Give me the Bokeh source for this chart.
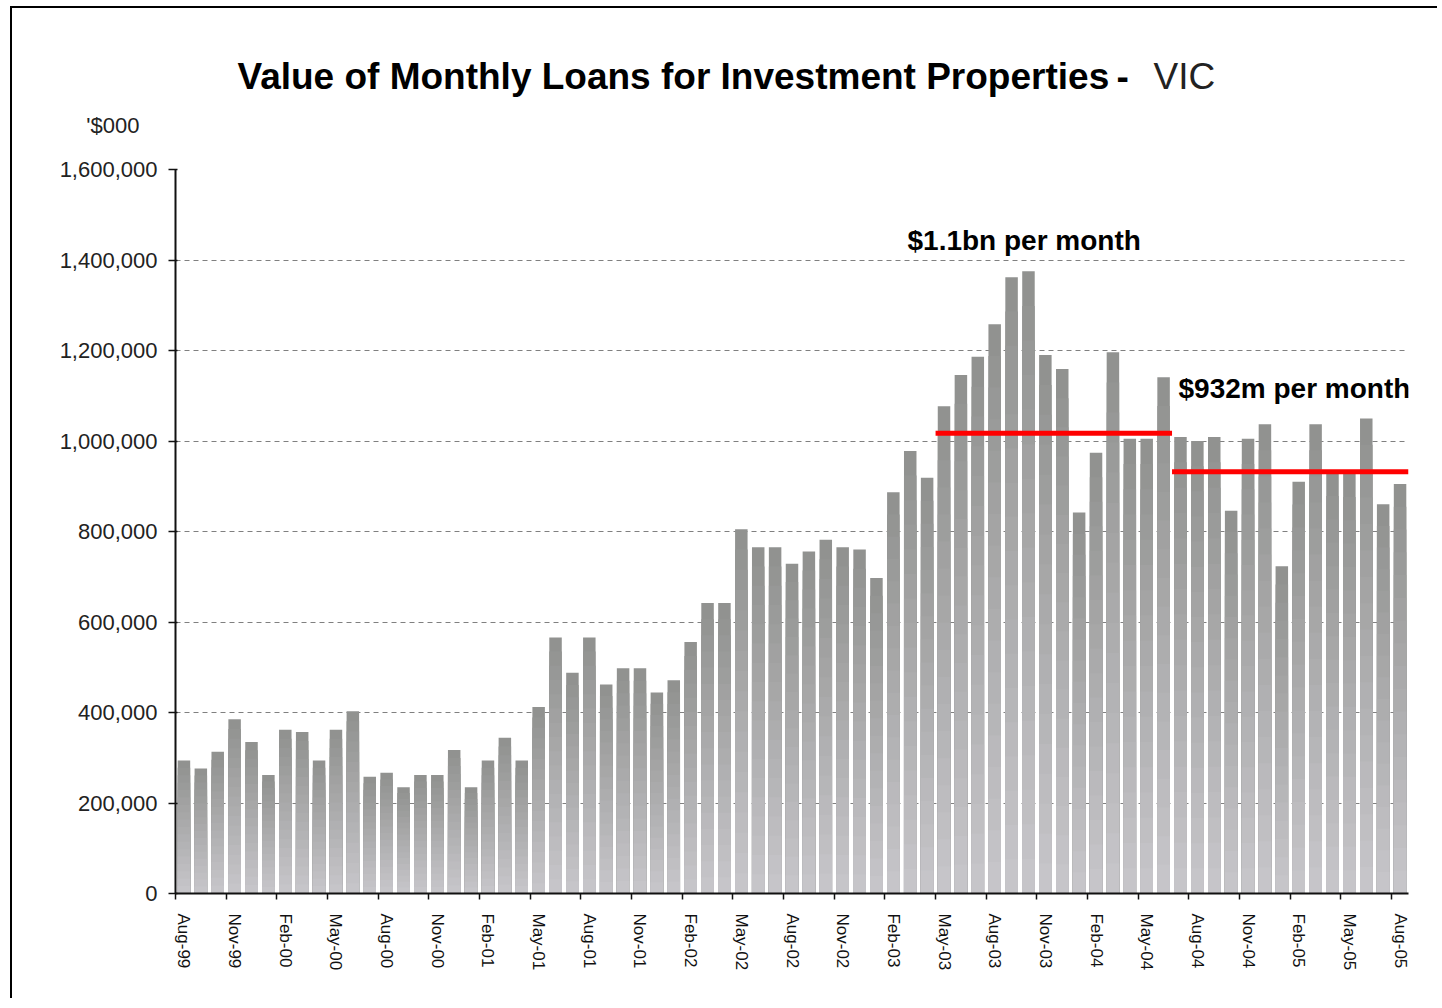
import numpy as np
import pandas as pd
from bokeh.plotting import figure
from bokeh.layouts import column
from bokeh.models import ColumnDataSource, FixedTicker, NumeralTickFormatter, Label, Range1d
from bokeh.embed import file_html
from bokeh.resources import INLINE

# ---------------- data ----------------
months = pd.date_range("1999-08-01", periods=73, freq="MS").strftime("%b-%y").tolist()

loans = [
    294000, 276000, 313000, 385000, 335000, 262000, 362000, 357000, 294000, 362000,
    403000, 258000, 267000, 235000, 262000, 262000, 317000, 235000, 294000, 344000,
    294000, 412000, 566000, 488000, 566000, 462000, 498000, 498000, 444000, 471000,
    556000, 642000, 642000, 805000, 765000, 765000, 729000, 756000, 782000, 765000,
    760000, 697000, 887000, 978000, 919000, 1077000, 1146000, 1186000, 1258000, 1362000,
    1375000, 1190000, 1159000, 842000, 974000, 1196000, 1005000, 1005000, 1141000, 1009000,
    1000000, 1009000, 846000, 1005000, 1037000, 723000, 910000, 1037000, 930000, 928000,
    1050000, 860000, 905000,
]

avg_labels = ["$1.1bn per month", "$932m per month"]
avg_values = [1017000, 932000]
avg_from = ["May-03", "Jul-04"]
avg_to = ["Jun-04", "Aug-05"]

y_ticks = [0, 200000, 400000, 600000, 800000, 1000000, 1200000, 1400000, 1600000]

title_main = "Value of Monthly Loans for Investment Properties"
title_sep = "-"
title_state = "VIC"
unit_label = "'$000"

FONT = "Liberation Sans"

# ---------------- layout (page pixels) ----------------
CANVAS_X, CANVAS_Y = 12, 8           # content origin on the page
HEAD_H = 140                          # header strip (title, unit label)
FRAME_L, FRAME_R, FRAME_T, FRAME_B = 175, 1408, 169, 893
W, H = 1425, 850
MAIN_Y = CANVAS_Y + HEAD_H           # page y of main canvas top
BORDER_L = FRAME_L - CANVAS_X
BORDER_R = CANVAS_X + W - FRAME_R

n = len(loans)

# ---------------- header strip (its frame is aligned with the chart's) ----------------
head = figure(width=W, height=HEAD_H, output_backend="svg", toolbar_location=None,
              x_range=Range1d(FRAME_L, FRAME_R), y_range=Range1d(MAIN_Y, CANVAS_Y),
              x_axis_type=None,
              min_border_left=BORDER_L, min_border_right=BORDER_R,
              min_border_top=0, min_border_bottom=0)
head.outline_line_color = None
head.grid.visible = False
head.background_fill_color = "white"
head.border_fill_color = "white"

# the unit label sits left of the frame: show it as the header's only y tick label
UNIT_Y = 125
head.yaxis.ticker = FixedTicker(ticks=[UNIT_Y])
head.yaxis.major_label_overrides = {UNIT_Y: unit_label}
head.yaxis.axis_line_color = None
head.yaxis.major_tick_line_color = None
head.yaxis.minor_tick_line_color = None
head.yaxis.major_tick_out = 0
head.yaxis.major_tick_in = 0
head.yaxis.major_label_standoff = FRAME_L - 139
head.yaxis.major_label_text_font = FONT
head.yaxis.major_label_text_font_size = "22px"
head.yaxis.major_label_text_color = "#222222"

def fix(size_px):
    # rendered alphabetic baseline sits ~0.36em below the anchor; compensate
    return 0.36 * size_px

def head_text(px, py, text, size, bold=False, color="black"):
    head.add_layout(Label(x=px, y=py - fix(size), text=text, text_font=FONT,
                          text_font_size="%dpx" % size,
                          text_font_style="bold" if bold else "normal",
                          text_color=color, text_baseline="alphabetic", text_align="left"))

head_text(237, 89, title_main, 37, bold=True)
head_text(1116, 89, title_sep, 37, bold=True)
head_text(1153, 89, title_state, 37, color="#222222")

# ---------------- main chart ----------------
p = figure(width=W, height=H, output_backend="svg", toolbar_location=None,
           x_range=Range1d(-0.5, n - 0.5), y_range=Range1d(0, 1600000),
           min_border_left=BORDER_L, min_border_right=BORDER_R,
           min_border_top=FRAME_T - MAIN_Y, min_border_bottom=MAIN_Y + H - FRAME_B)
p.outline_line_color = None
p.background_fill_color = "white"
p.border_fill_color = "white"

# gradient bars (each bar drawn as overlapping bands, darker at the top)
N = 18
c_top = np.array([145, 146, 144])
c_bot = np.array([198, 197, 201])
vals = np.array(loans, dtype=float)
xs, tops, cols = [], [], []
for j in range(N - 1, -1, -1):
    t = j / (N - 1)
    c = (c_bot + (c_top - c_bot) * t).round().astype(int)
    col = "#%02x%02x%02x" % tuple(c)
    for i in range(n):
        xs.append(i)
        tops.append(vals[i] * (j + 1) / N)
        cols.append(col)
seg_src = ColumnDataSource(dict(x=xs, top=tops, color=cols))
p.vbar(x="x", top="top", bottom=0, width=0.74, source=seg_src,
       fill_color="color", line_color=None)

# average lines
avg_src = ColumnDataSource(dict(
    x0=[months.index(m) - 0.5 for m in avg_from],
    x1=[months.index(m) + 0.5 for m in avg_to],
    y=avg_values,
))
p.segment(x0="x0", y0="y", x1="x1", y1="y", source=avg_src, line_color="#ff0000", line_width=5)

# axes
tick_idx = list(range(0, n, 3))
p.xaxis.ticker = FixedTicker(ticks=tick_idx, minor_ticks=[i - 0.5 for i in tick_idx])
p.xaxis.major_label_overrides = {i: months[i] for i in tick_idx}
p.xaxis.major_label_orientation = "vertical"
p.xaxis.major_tick_out = 0
p.xaxis.major_tick_in = 0
p.xaxis.minor_tick_out = 6
p.xaxis.minor_tick_in = 0
p.xaxis.minor_tick_line_color = "#111111"
p.xaxis.minor_tick_line_width = 1.5
p.xaxis.axis_line_color = "#111111"
p.xaxis.axis_line_width = 2
p.xaxis.major_label_text_font = FONT
p.xaxis.major_label_text_font_size = "17px"
p.xaxis.major_label_text_color = "#111111"
p.xaxis.major_label_standoff = 14

p.yaxis.ticker = FixedTicker(ticks=y_ticks)
p.yaxis.formatter = NumeralTickFormatter(format="0,0")
p.yaxis.minor_tick_line_color = None
p.yaxis.major_tick_out = 7
p.yaxis.major_tick_in = 2
p.yaxis.major_tick_line_color = "#111111"
p.yaxis.major_tick_line_width = 1.5
p.yaxis.axis_line_color = "#111111"
p.yaxis.axis_line_width = 2
p.yaxis.major_label_text_font = FONT
p.yaxis.major_label_text_font_size = "22px"
p.yaxis.major_label_text_color = "#222222"
p.yaxis.major_label_standoff = 11

p.xgrid.visible = False
p.ygrid.grid_line_color = "#808080"
p.ygrid.grid_line_dash = "5 4"
p.ygrid.grid_line_width = 1

def main_text(px, py, text, size):
    p.add_layout(Label(x=px - FRAME_L, y=FRAME_B - (py - fix(size)),
                       x_units="screen", y_units="screen",
                       text=text, text_font=FONT, text_font_size="%dpx" % size,
                       text_font_style="bold", text_color="black",
                       text_baseline="alphabetic", text_align="left"))

main_text(907, 250, avg_labels[0], 28)
main_text(1178, 398, avg_labels[1], 28)

page = column(head, p, spacing=0)
page.styles = {"border-left": "2px solid black", "border-top": "2px solid black",
               "margin-left": "10px", "margin-top": "6px"}

open("out.html", "w").write(file_html(page, INLINE))
